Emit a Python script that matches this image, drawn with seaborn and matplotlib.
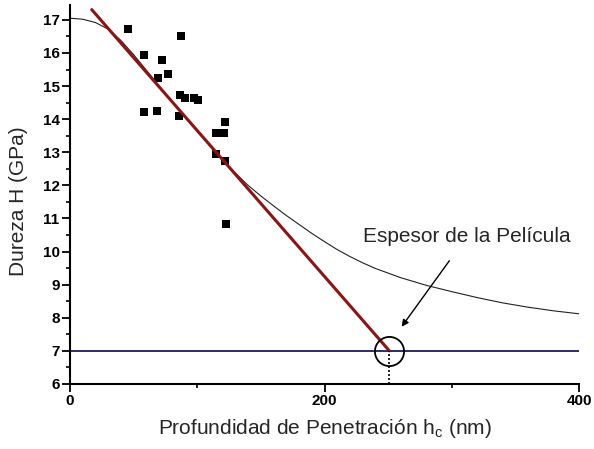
import numpy as np
import pandas as pd
import matplotlib
matplotlib.use("Agg")
import matplotlib.pyplot as plt
import seaborn as sns
from matplotlib.ticker import MultipleLocator, FixedLocator

# ---- data ----
depth_nm = [45.9, 87.4, 58.5, 72.2, 76.9, 69.0, 86.1, 90.5, 97.1, 100.8,
            58.3, 68.0, 85.3, 121.5, 114.7, 120.7, 114.7, 121.5, 122.8]
hardness_gpa = [16.73, 16.51, 15.95, 15.79, 15.35, 15.24, 14.73, 14.64, 14.63, 14.57,
                14.22, 14.24, 14.09, 13.92, 13.59, 13.59, 12.94, 12.73, 10.84]

fit_x = [0, 10, 20, 30, 40, 50, 60, 70, 80, 90, 100, 110, 120, 130, 140, 150,
         160, 170, 180, 190, 200, 210, 220, 230, 240, 260, 280, 300, 320, 340,
         360, 380, 400]
fit_y = [17.05, 17.02, 16.92, 16.72, 16.38, 15.95, 15.48, 15.01, 14.54, 14.08,
         13.63, 13.19, 12.77, 12.37, 12.00, 11.68, 11.38, 11.09, 10.82, 10.55,
         10.30, 10.06, 9.85, 9.66, 9.49, 9.21, 8.98, 8.79, 8.61, 8.45,
         8.32, 8.21, 8.12]

linear_x = [17.1, 251.0]
linear_y = [17.31, 7.0]

substrate_x = [0, 400]
substrate_y = [7.0, 7.0]

film_thickness = 251.0
film_hardness = 7.0

x_ticks = [0, 200, 400]
y_ticks = [6, 7, 8, 9, 10, 11, 12, 13, 14, 15, 16, 17]

# ---- plot ----
sns.set_style("ticks")
plt.rcParams['font.family'] = ['Liberation Sans', 'DejaVu Sans']

fig = plt.figure(figsize=(5.94, 4.49), dpi=100)
ax = fig.add_axes([0.1178, 0.1448, 0.857, 0.8441])

pts = pd.DataFrame({"h": depth_nm, "H": hardness_gpa})
fit = pd.DataFrame({"h": fit_x, "H": fit_y})
lin = pd.DataFrame({"h": linear_x, "H": linear_y})
sub = pd.DataFrame({"h": substrate_x, "H": substrate_y})

sns.lineplot(data=sub, x="h", y="H", ax=ax, color="#1c1c5c", lw=1.3, zorder=2)
sns.lineplot(data=fit, x="h", y="H", ax=ax, color="#222222", lw=0.8, zorder=2)
sns.scatterplot(data=pts, x="h", y="H", ax=ax, marker="s", s=38, color="black",
                edgecolor="black", linewidth=0, zorder=3)
sns.lineplot(data=lin, x="h", y="H", ax=ax, color="#8b1414", lw=2.2, zorder=4)

# film thickness marker
ax.plot([film_thickness], [film_hardness], marker="o", ms=21, mfc="none",
        mec="black", mew=1.3, zorder=5, clip_on=False)
ax.plot([film_thickness, film_thickness], [6, film_hardness], color="black",
        lw=1.2, ls=(0, (1.2, 1.2)), zorder=5, clip_on=False)

ax.annotate("Espesor de la Película", xy=(260.6, 7.73), xytext=(311.8, 10.45),
            ha="center", va="center", fontsize=15,
            arrowprops=dict(arrowstyle="-|>", color="black", lw=1.0,
                            mutation_scale=10, shrinkA=10, shrinkB=0))

ax.set_xlim(0, 400)
ax.set_ylim(6, 17.45)
ax.xaxis.set_major_locator(FixedLocator(x_ticks))
ax.xaxis.set_minor_locator(FixedLocator([100, 300]))
ax.yaxis.set_major_locator(FixedLocator(y_ticks))
ax.yaxis.set_minor_locator(MultipleLocator(0.5))

ax.tick_params(which="major", direction="out", length=5.5, width=1.3,
               labelsize=11, colors="black", pad=2)
ax.tick_params(which="minor", direction="out", length=3, width=1.2, colors="black")
for lab in ax.get_xticklabels() + ax.get_yticklabels():
    lab.set_fontweight("bold")

for s in ["top", "right"]:
    ax.spines[s].set_visible(False)
for s in ["left", "bottom"]:
    ax.spines[s].set_linewidth(1.5)
    ax.spines[s].set_color("black")

ax.set_xlabel(r"Profundidad de Penetración h$_\mathregular{c}$ (nm)", fontsize=15, labelpad=6)
ax.set_ylabel("Dureza H (GPa)", fontsize=15, labelpad=6)
ax.yaxis.set_label_coords(-0.083, 0.483)

fig.savefig("out.png", dpi=100)
